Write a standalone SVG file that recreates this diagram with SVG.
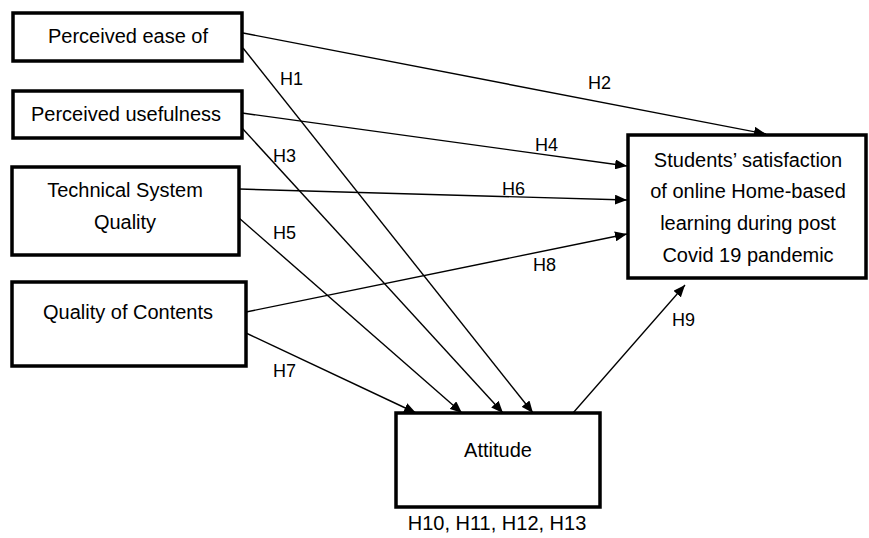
<svg xmlns="http://www.w3.org/2000/svg" width="869" height="538" viewBox="0 0 869 538">
<style>
.box{fill:#fff;stroke:#000;stroke-width:3.5}
.t{font-family:"Liberation Sans",Arial,sans-serif;font-size:20px;fill:#000;text-anchor:middle}
.l{font-family:"Liberation Sans",Arial,sans-serif;font-size:18px;fill:#000}
.c{stroke:#000;stroke-width:1.4;fill:none;marker-end:url(#ah)}
</style>
<defs>
<marker id="ah" viewBox="0 0 12 10" refX="12" refY="5" markerWidth="12" markerHeight="10" markerUnits="userSpaceOnUse" orient="auto">
<path d="M0,0 L12,5 L0,10 Z" fill="#000"/>
</marker>
</defs>
<rect width="869" height="538" fill="#fff"/>
<g id="connectors">
<line class="c" x1="243" y1="33" x2="766" y2="134"/>
<line class="c" x1="243" y1="48" x2="533" y2="413"/>
<line class="c" x1="242" y1="113" x2="627" y2="166"/>
<line class="c" x1="242" y1="128" x2="503" y2="413"/>
<line class="c" x1="239" y1="189" x2="627" y2="200"/>
<line class="c" x1="239" y1="218" x2="462" y2="413"/>
<line class="c" x1="246" y1="312" x2="627" y2="234"/>
<line class="c" x1="246" y1="333" x2="416" y2="413"/>
<line class="c" x1="573" y1="413" x2="685" y2="285"/>
<text class="l" x="280" y="85">H1</text>
<text class="l" x="588" y="89">H2</text>
<text class="l" x="273" y="162">H3</text>
<text class="l" x="535" y="151">H4</text>
<text class="l" x="273" y="239">H5</text>
<text class="l" x="502" y="195">H6</text>
<text class="l" x="273" y="377">H7</text>
<text class="l" x="533" y="271">H8</text>
<text class="l" x="672" y="326">H9</text>
</g>
<g id="peou">
<rect class="box" x="13" y="13" width="229" height="48"/>
<text class="t" x="128" y="43">Perceived ease of</text>
</g>
<g id="pu">
<rect class="box" x="13" y="91" width="229" height="47"/>
<text class="t" x="126" y="121">Perceived usefulness</text>
</g>
<g id="tsq">
<rect class="box" x="12" y="167" width="227" height="88"/>
<text class="t" x="125" y="197">Technical System</text>
<text class="t" x="125" y="229">Quality</text>
</g>
<g id="qoc">
<rect class="box" x="12" y="282" width="234" height="84"/>
<text class="t" x="128" y="319">Quality of Contents</text>
</g>
<g id="satisfaction">
<rect class="box" x="628" y="135" width="238" height="143"/>
<text class="t" x="748" y="167">Students’ satisfaction</text>
<text class="t" x="748" y="198">of online Home-based</text>
<text class="t" x="748" y="230">learning during post</text>
<text class="t" x="748" y="262">Covid 19 pandemic</text>
</g>
<g id="attitude">
<rect class="box" x="396" y="413" width="204" height="94"/>
<text class="t" x="498" y="457">Attitude</text>
</g>
<text class="t" x="497" y="530">H10, H11, H12, H13</text>
</svg>
